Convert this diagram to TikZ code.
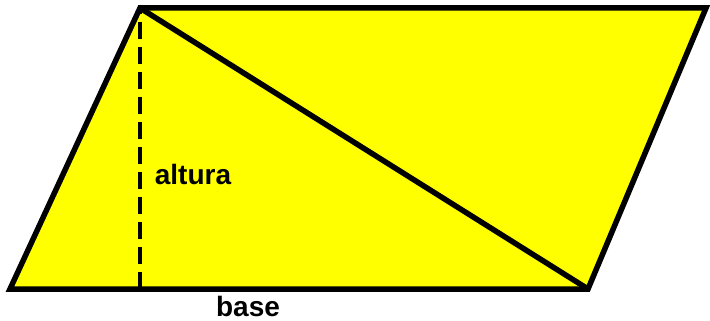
\documentclass[tikz,border=0pt]{standalone}
\usepackage{fontspec}
\setmainfont{Liberation Sans}
\definecolor{fillyel}{RGB}{255,255,0}
\begin{document}
\begin{tikzpicture}[x=1pt,y=-1pt,
  edge/.style={line width=5.5pt,line join=miter},
  lbl/.style={font=\bfseries\fontsize{28}{32}\selectfont,inner sep=0pt}]
\useasboundingbox (0,0) rectangle (710,321);
\coordinate (A) at (10,289);
\coordinate (B) at (140,8);
\coordinate (C) at (706,8);
\coordinate (D) at (588,289);
\coordinate (H) at (140,287);
\fill[fillyel] (A) -- (B) -- (C) -- (D) -- cycle;
\draw[line width=3.5pt,dash pattern=on 17pt off 8pt,dash phase=-14pt] (B) -- (H);
\draw[edge] (A) -- (B) -- (C) -- (D) -- cycle;
\draw[edge] (B) -- (D);
\node[lbl] (alt) at (193,174) {altura};
\node[lbl] (base) at (248,306) {base};
\end{tikzpicture}
\end{document}
